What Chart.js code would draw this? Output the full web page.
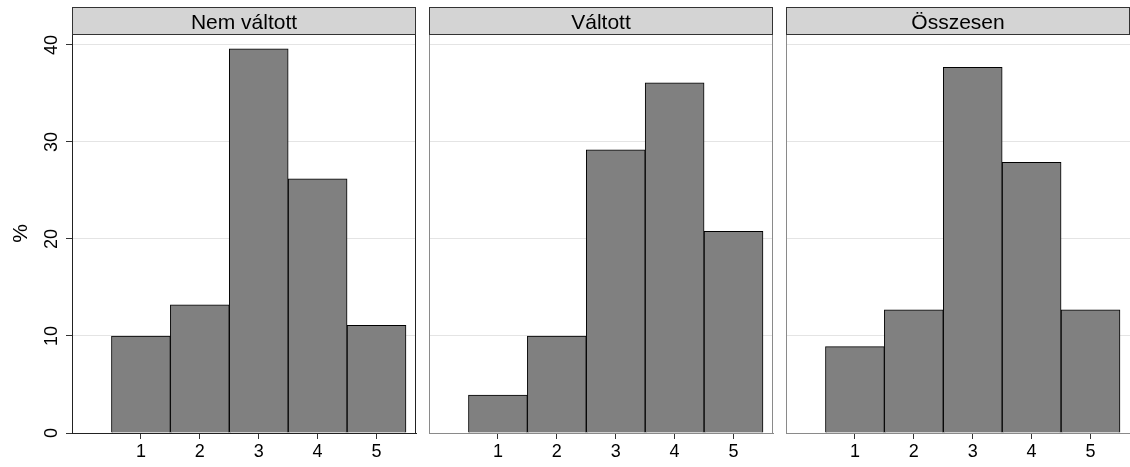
<!DOCTYPE html>
<html>
<head>
<meta charset="utf-8">
<script src="https://cdn.jsdelivr.net/npm/chart.js@4"></script>
<style>
  body { margin: 0; background: #fff; width: 1130px; height: 467px; position: relative; overflow: hidden; }
  canvas { position: absolute; top: 0; }
</style>
</head>
<body>
<canvas id="c1" width="420" height="467" style="left:0px"></canvas>
<canvas id="c2" width="352" height="467" style="left:425px"></canvas>
<canvas id="c3" width="348" height="467" style="left:782px"></canvas>
<script>
// ====== Data ======
const panelTitles = ['Nem váltott', 'Váltott', 'Összesen'];
const scores = [1, 2, 3, 4, 5];
const nemValtott = [10.0, 13.2, 39.6, 26.2, 11.1];
const valtott = [3.9, 10.0, 29.2, 36.1, 20.8];
const osszesen = [8.9, 12.7, 37.7, 27.9, 12.7];
const xTicks = [1, 2, 3, 4, 5];
const yTicks = [0, 10, 20, 30, 40];
const yTitle = '%';

const FONT = "'Liberation Sans', Arial, sans-serif";

// ====== Facet header + frame ======
const facetPlugin = {
  id: 'facet',
  afterDatasetsDraw(chart, args, opts) {
    const { ctx, chartArea: a } = chart;
    const w = a.right - a.left;
    ctx.save();
    ctx.lineWidth = 1;
    // right frame line
    if (opts.frameColor) {
      ctx.strokeStyle = opts.frameColor;
      ctx.beginPath();
      ctx.moveTo(a.right - 0.5, a.top);
      ctx.lineTo(a.right - 0.5, a.bottom);
      ctx.stroke();
    }
    // header strip
    ctx.fillStyle = '#d4d4d4';
    ctx.fillRect(a.left, 7, w, a.top - 7);
    ctx.strokeStyle = '#333';
    ctx.strokeRect(a.left + 0.5, 7.5, w - 1, a.top - 7);
    ctx.fillStyle = '#000';
    ctx.font = '21px ' + FONT;
    ctx.textAlign = 'center';
    ctx.textBaseline = 'alphabetic';
    ctx.fillText(opts.title, a.left + w / 2, 28.5);
    ctx.restore();
  }
};

function makePanel(id, idx, values, withAxis, padLeft, padRight, frameColor) {
  const axisColor = withAxis ? '#222' : '#8a8a8a';
  return new Chart(document.getElementById(id), {
    type: 'bar',
    data: {
      datasets: [{
        data: scores.map((x, i) => ({ x: x, y: values[i] })),
        backgroundColor: '#808080',
        borderColor: '#000',
        borderWidth: 1,
        barPercentage: 1,
        categoryPercentage: 1
      }]
    },
    options: {
      responsive: false,
      animation: false,
      events: [],
      layout: { padding: { top: 34, left: padLeft, right: padRight, bottom: 0 } },
      plugins: {
        legend: { display: false },
        tooltip: { enabled: false },
        facet: { title: panelTitles[idx], frameColor: frameColor }
      },
      scales: {
        x: {
          type: 'linear',
          min: -0.17,
          max: 5.67,
          offset: false,
          afterBuildTicks: s => { s.ticks = xTicks.map(v => ({ value: v })); },
          afterFit: s => { s.height = 34; },
          grid: { offset: false, drawOnChartArea: false, drawTicks: true, tickLength: 6, tickColor: '#333' },
          border: { display: true, color: axisColor, width: 1 },
          ticks: { padding: 2, color: '#000', font: { family: FONT, size: 18 }, maxRotation: 0 }
        },
        y: {
          min: 0,
          max: 41.13,
          afterBuildTicks: s => { s.ticks = yTicks.map(v => ({ value: v })); },
          afterFit: s => { s.width = withAxis ? 72 : 0; },
          grid: {
            color: c => (c.tick && c.tick.value === 0) ? 'rgba(0,0,0,0)' : '#e4e4e4',
            drawTicks: withAxis,
            tickLength: 6,
            tickColor: '#333'
          },
          border: { display: true, color: axisColor, width: 1 },
          title: {
            display: withAxis,
            text: yTitle,
            color: '#000',
            font: { family: FONT, size: 21 },
            padding: { top: 9, bottom: 0 }
          },
          ticks: {
            display: withAxis,
            color: '#000',
            font: { family: FONT, size: 18 },
            minRotation: 90,
            maxRotation: 90,
            crossAlign: 'center',
            padding: 4
          }
        }
      }
    },
    plugins: [facetPlugin]
  });
}

// ====== Init ======
makePanel('c1', 0, nemValtott, true, 0, 4, '#222');
makePanel('c2', 1, valtott, false, 4, 4, '#8a8a8a');
makePanel('c3', 2, osszesen, false, 4, 0, null);
</script>
</body>
</html>
